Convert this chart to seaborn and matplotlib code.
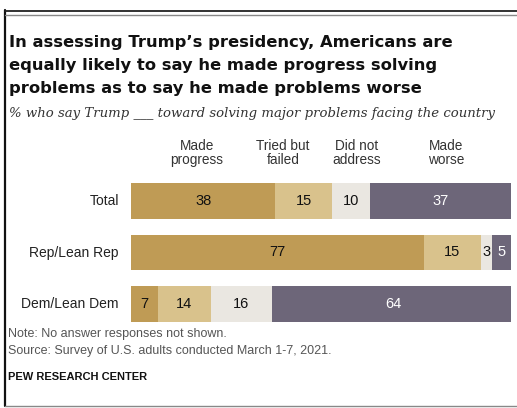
import numpy as np
import pandas as pd
import matplotlib
matplotlib.use("Agg")
import matplotlib.pyplot as plt
import seaborn as sns
from matplotlib.lines import Line2D

# ---- data ----
groups = ["Total", "Rep/Lean Rep", "Dem/Lean Dem"]
responses = ["Made progress", "Tried but failed", "Did not address", "Made worse"]
header_labels = ["Made\nprogress", "Tried but\nfailed", "Did not\naddress", "Made\nworse"]
made_progress = [38, 77, 7]
tried_but_failed = [15, 15, 14]
did_not_address = [10, 3, 16]
made_worse = [37, 5, 64]

colors = ["#BF9B55", "#D9C28C", "#EAE7E1", "#6D6679"]
text_colors = ["#111111", "#111111", "#111111", "#FFFFFF"]

W, H = 517, 408
sns.set_theme(style="white")
plt.rcParams["font.family"] = ["Liberation Sans", "DejaVu Sans"]

fig = plt.figure(figsize=(W / 100, H / 100), dpi=100)
fig.patch.set_facecolor("white")


def fx(px):
    return px / W


def fy(py):
    return 1 - py / H


# bar area: x from 131 to 511 px; row centres at 201, 253, 304 px
row_step = 51.5
top = 201 - row_step / 2
ax = fig.add_axes([fx(131), fy(top + 3 * row_step), fx(511) - fx(131), 3 * row_step / H])

series = [made_progress, tried_but_failed, did_not_address, made_worse]
values = np.array(series, dtype=float).T  # rows = groups
cum = np.cumsum(values, axis=1)

df = pd.DataFrame(values, columns=responses)
df["group"] = groups
for i in range(len(responses)):
    df[f"cum_{i}"] = cum[:, i]

# stacked bars: draw cumulative totals from largest to smallest
for i in reversed(range(len(responses))):
    sns.barplot(data=df, x=f"cum_{i}", y="group", order=groups, color=colors[i],
                width=0.68, saturation=1, ax=ax, linewidth=0)

ax.set_xlim(0, 100)
ax.set_ylim(2.5, -0.5)
ax.axis("off")

# value labels at segment centres
for r in range(len(groups)):
    start = 0
    for i in range(len(responses)):
        v = values[r, i]
        ax.text(start + v / 2, r, f"{int(v)}", ha="center", va="center",
                fontsize=10.5, color=text_colors[i])
        start += v

# group labels
for r, g in enumerate(groups):
    ax.text(-3.2, r, g, ha="right", va="center", fontsize=10, color="#222222")

# column headers
header_x = [17.3, 40.0, 59.3, 83.0]
for hx, lab in zip(header_x, header_labels):
    ax.text(hx, -0.66, lab, ha="center", va="bottom", fontsize=9.8,
            color="#333333", linespacing=1.0)

# title and subtitle
title_lines = ["In assessing Trump\u2019s presidency, Americans are",
               "equally likely to say he made progress solving",
               "problems as to say he made problems worse"]
for k, line in enumerate(title_lines):
    fig.text(fx(9), fy(47 + 22.8 * k), line, fontsize=11.8, fontweight="bold",
             color="#111111", va="baseline", ha="left",
             family=["DejaVu Sans"])

fig.text(fx(9), fy(117),
         "% who say Trump ___ toward solving major problems facing the country",
         fontsize=9.5, style="italic", color="#333333", va="baseline", ha="left",
         family=["DejaVu Serif"])

# notes
fig.text(fx(8), fy(337), "Note: No answer responses not shown.",
         fontsize=9.0, color="#555555", va="baseline")
fig.text(fx(8), fy(354), "Source: Survey of U.S. adults conducted March 1-7, 2021.",
         fontsize=9.0, color="#555555", va="baseline")
fig.text(fx(8), fy(380), "PEW RESEARCH CENTER", fontsize=8.0, fontweight="bold",
         color="#111111", va="baseline")

# frame lines
fig.add_artist(Line2D([fx(5), fx(5)], [fy(10), fy(406)], color="#111111", lw=1.6))
fig.add_artist(Line2D([fx(5), 1], [fy(11), fy(11)], color="#222222", lw=1.3))
fig.add_artist(Line2D([fx(5), 1], [fy(14.5), fy(14.5)], color="#888888", lw=1.0))
fig.add_artist(Line2D([fx(5), 1], [fy(406), fy(406)], color="#888888", lw=1.0))

fig.savefig("out.png", dpi=100, facecolor="white")
